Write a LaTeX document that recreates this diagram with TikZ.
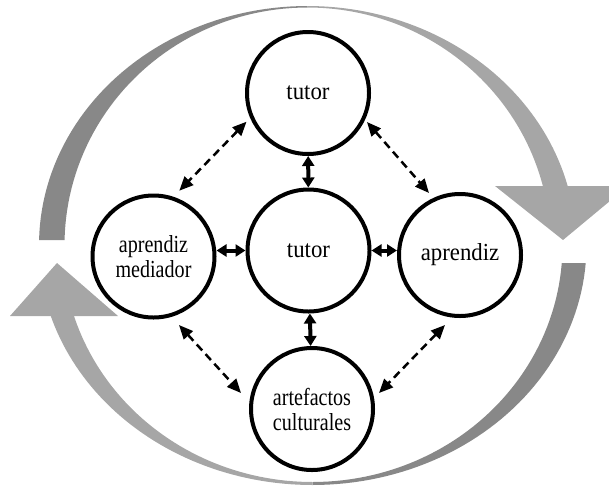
\documentclass[tikz,border=0pt]{standalone}
\usepackage{fontspec}
\setmainfont{Liberation Serif}
\newfontfamily\labelserif[FakeStretch=0.93]{Liberation Serif}
\newfontfamily\narrowserif[FakeStretch=0.82]{Liberation Serif}
\usetikzlibrary{arrows.meta}
\definecolor{banddark}{RGB}{136,136,136}
\definecolor{bandlight}{RGB}{166,166,166}

\begin{document}
\begin{tikzpicture}[x=1pt,y=-1pt,
  stage/.style={circle, draw=black, line width=4pt, minimum size=122pt,
    inner sep=0pt, fill=white, align=center,
    font=\labelserif\fontsize{24.5}{25}\selectfont},
  narrow/.style={font=\narrowserif\fontsize{24.5}{25}\selectfont},
  link/.style={line width=4pt,
    {Triangle[length=10pt,width=12pt]}-{Triangle[length=10pt,width=12pt]}},
  loose/.style={line width=2.5pt, dash pattern=on 8pt off 5pt,
    {Triangle[length=14pt,width=12pt]}-{Triangle[length=14pt,width=12pt]}}
]
\useasboundingbox (0,0) rectangle (609,488);

% cycle arrows around the diagram: tapered elliptical bands
\begin{scope}
  \clip (0,0) rectangle (609,488);
  % upper arrow, tail on the left
  \fill[banddark]
    plot[domain=178.8:90, samples=50] ({307.5+268.5*cos(\x)},{245-239*sin(\x)})
    -- plot[domain=90:178.8, samples=50] ({307.5+243*cos(\x)},{245-237.5*sin(\x)})
    -- cycle;
  \fill[bandlight]
    plot[domain=90:13, samples=50] ({307.5+268.5*cos(\x)},{245-239*sin(\x)})
    -- plot[domain=13:90, samples=50] ({307.5+243*cos(\x)},{245-237.5*sin(\x)})
    -- cycle;
  \fill[bandlight] (495,186) -- (628,186) -- (563,240) -- cycle;
  % lower arrow, tail on the right
  \fill[banddark]
    plot[domain=-4.3:-90, samples=50] ({312.5+274*cos(\x)},{245-240*sin(\x)})
    -- plot[domain=-90:-4.36, samples=50] ({312.5+250*cos(\x)},{245-237*sin(\x)})
    -- cycle;
  \fill[bandlight]
    plot[domain=-90:-165, samples=50] ({312.5+274*cos(\x)},{245-240*sin(\x)})
    -- plot[domain=-165:-90, samples=50] ({312.5+250*cos(\x)},{245-237*sin(\x)})
    -- cycle;
  \fill[bandlight] (10,316) -- (118,316) -- (57,263) -- cycle;
\end{scope}

% actors
\node[stage] (top) at (308,93) {tutor};
\node[stage] (hub) at (308.5,250.5) {tutor};
\node[stage, narrow] (mediator) at (153.5,256.5) {aprendiz\\mediador};
\node[stage] (learner) at (460,255) {aprendiz};
\node[stage, narrow] (artifacts) at (312,409) {artefactos\\culturales};

% direct links with the central tutor
\draw[link] (top) -- (hub);
\draw[link] (hub) -- (artifacts);
\draw[link] (hub.west) -- (hub.west -| mediator.east);
\draw[link] (hub.east) -- (hub.east -| learner.west);

% indirect links around the ring
\draw[loose] ([shift={(-61.5,28.7)}]top.center) -- ([shift={(25.8,-65.8)}]mediator.center);
\draw[loose] ([shift={(59,29)}]top.center) -- ([shift={(-31,-62)}]learner.center);
\draw[loose] ([shift={(25.5,68.5)}]mediator.center) -- ([shift={(-71,-16)}]artifacts.center);
\draw[loose] ([shift={(-15,70)}]learner.center) -- ([shift={(67,-16)}]artifacts.center);
\end{tikzpicture}
\end{document}
